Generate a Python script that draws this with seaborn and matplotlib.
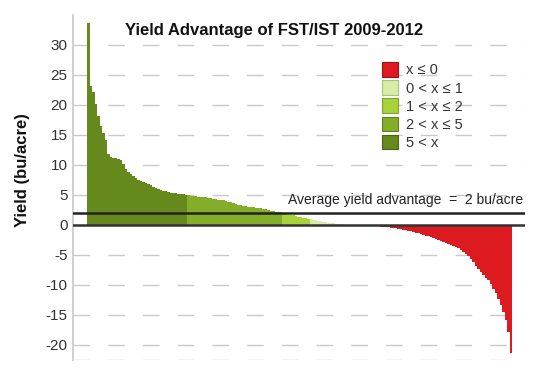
import matplotlib
matplotlib.use("Agg")
import matplotlib.pyplot as plt
from matplotlib.patches import Patch
import seaborn as sns
import pandas as pd

# ---- data (sorted yield advantage per site, bu/acre) ----
values = [
    33.7, 23.2, 22.1, 20.2, 18.2, 16.5, 15.4, 14.2, 11.8, 11.3,
    11.2, 11.1, 11.0, 10.8, 10.2, 9.4, 8.9, 8.5, 8.1, 7.8,
    7.5, 7.4, 7.2, 7.0, 6.8, 6.6, 6.3, 6.2, 6.0, 5.8,
    5.7, 5.6, 5.5, 5.4, 5.35, 5.3, 5.25, 5.2, 5.1, 5.05,
    4.95, 4.9, 4.85, 4.8, 4.75, 4.7, 4.65, 4.6, 4.5, 4.45,
    4.4, 4.3, 4.25, 4.2, 4.1, 4.0, 3.9, 3.8, 3.65, 3.5,
    3.4, 3.3, 3.2, 3.1, 3.05, 3.0, 2.95, 2.9, 2.85, 2.8,
    2.7, 2.6, 2.5, 2.4, 2.3, 2.2, 2.15, 2.1, 1.95, 1.85,
    1.75, 1.7, 1.6, 1.5, 1.4, 1.3, 1.2, 1.15, 1.05, 0.98,
    0.9, 0.8, 0.7, 0.6, 0.5, 0.45, 0.4, 0.35, 0.3, 0.25,
    0.2, 0.15, 0.1, 0.05, 0.04, 0.03, 0.02, 0.02, 0.01, 0.01,
    0.0, 0.0, 0.0, -0.05, -0.1, -0.15, -0.2, -0.25, -0.3, -0.35,
    -0.4, -0.45, -0.5, -0.55, -0.6, -0.65, -0.75, -0.85, -0.95, -1.05,
    -1.15, -1.25, -1.35, -1.45, -1.6, -1.75, -1.9, -2.05, -2.2, -2.35,
    -2.5, -2.65, -2.8, -2.95, -3.1, -3.3, -3.5, -3.7, -3.9, -4.2,
    -4.5, -4.8, -5.2, -5.6, -6.2, -6.8, -7.4, -7.9, -8.4, -8.8,
    -9.2, -9.8, -10.6, -11.3, -12.3, -13.3, -14.5, -15.8, -17.8, -21.3,
]
category_labels = ["x \u2264 0", "0 < x \u2264 1", "1 < x \u2264 2", "2 < x \u2264 5", "5 < x"]
category_colors = ["#dc1a1f", "#d8eea6", "#a8d23a", "#84ad2a", "#66891e"]
legend_edges = ["#a01013", "#a9c27a", "#7fa42a", "#5f8220", "#4a6614"]
y_ticks = [-20, -15, -10, -5, 0, 5, 10, 15, 20, 25, 30]
average_advantage = 2
title = "Yield Advantage of FST/IST 2009-2012"
y_label = "Yield (bu/acre)"
avg_label = "Average yield advantage  =  2 bu/acre"


def classify(v):
    if v <= 0:
        return category_labels[0]
    if v <= 1:
        return category_labels[1]
    if v <= 2:
        return category_labels[2]
    if v <= 5:
        return category_labels[3]
    return category_labels[4]


df = pd.DataFrame({
    "site": list(range(len(values))),
    "yield": values,
    "cat": [classify(v) for v in values],
})

sns.set_style("white")
plt.rcParams["font.family"] = ["Liberation Sans", "DejaVu Sans"]

fig = plt.figure(figsize=(5.48, 3.81), dpi=100)
ax = fig.add_axes([73 / 548, 1 - 360 / 381, (525 - 73) / 548, (360 - 15) / 381])

palette = dict(zip(category_labels, category_colors))
sns.barplot(data=df, x="site", y="yield", hue="cat", hue_order=category_labels,
            palette=palette, dodge=False, width=1.0, linewidth=0,
            saturation=1, legend=False, ax=ax, zorder=2)

n = len(values)
ax.set_xlim(-0.5 - 5.6, n - 0.5 + 5.2)
ax.set_ylim(-22.5, 35)

# dashed grid lines
for t in y_ticks + [-22.5]:
    if t == 0:
        continue
    ax.axhline(t, color="#c9c9c9", lw=1.0, ls=(0, (12, 13)), zorder=1)

ax.axhline(0, color="#333333", lw=1.8, zorder=3)
ax.axhline(average_advantage, color="#222222", lw=1.8, zorder=3)
ax.text(0.995, (average_advantage + 1.0 + 22.5) / 57.5, avg_label,
        transform=ax.transAxes, ha="right", va="bottom", fontsize=10, color="#222222")

ax.set_yticks(y_ticks)
ax.set_yticklabels([str(t) for t in y_ticks], fontsize=11, color="#333333")
ax.set_xticks([])
ax.set_xlabel("")
ax.set_ylabel(y_label, fontsize=12, fontweight="bold", color="#111111")
ax.yaxis.set_label_coords(-0.095, 0.55)
ax.tick_params(axis="y", length=0, pad=4)

for s in ["top", "right", "bottom"]:
    ax.spines[s].set_visible(False)
ax.spines["left"].set_color("#cccccc")
ax.spines["left"].set_linewidth(1.3)

fig.text(274 / 548, 1 - 30 / 381, title, ha="center", va="center",
         fontsize=12, fontweight="bold", color="#111111")

handles = [Patch(facecolor=c, edgecolor=e, linewidth=0.8)
           for c, e in zip(category_colors, legend_edges)]
leg = ax.legend(handles, category_labels, loc="upper left",
                bbox_to_anchor=(0.67, 0.88), frameon=False, fontsize=10.5,
                handlelength=1.15, handleheight=1.15, labelspacing=0.2,
                handletextpad=0.5, borderaxespad=0)
for txt in leg.get_texts():
    txt.set_color("#333333")

fig.savefig("out.png", dpi=100)
